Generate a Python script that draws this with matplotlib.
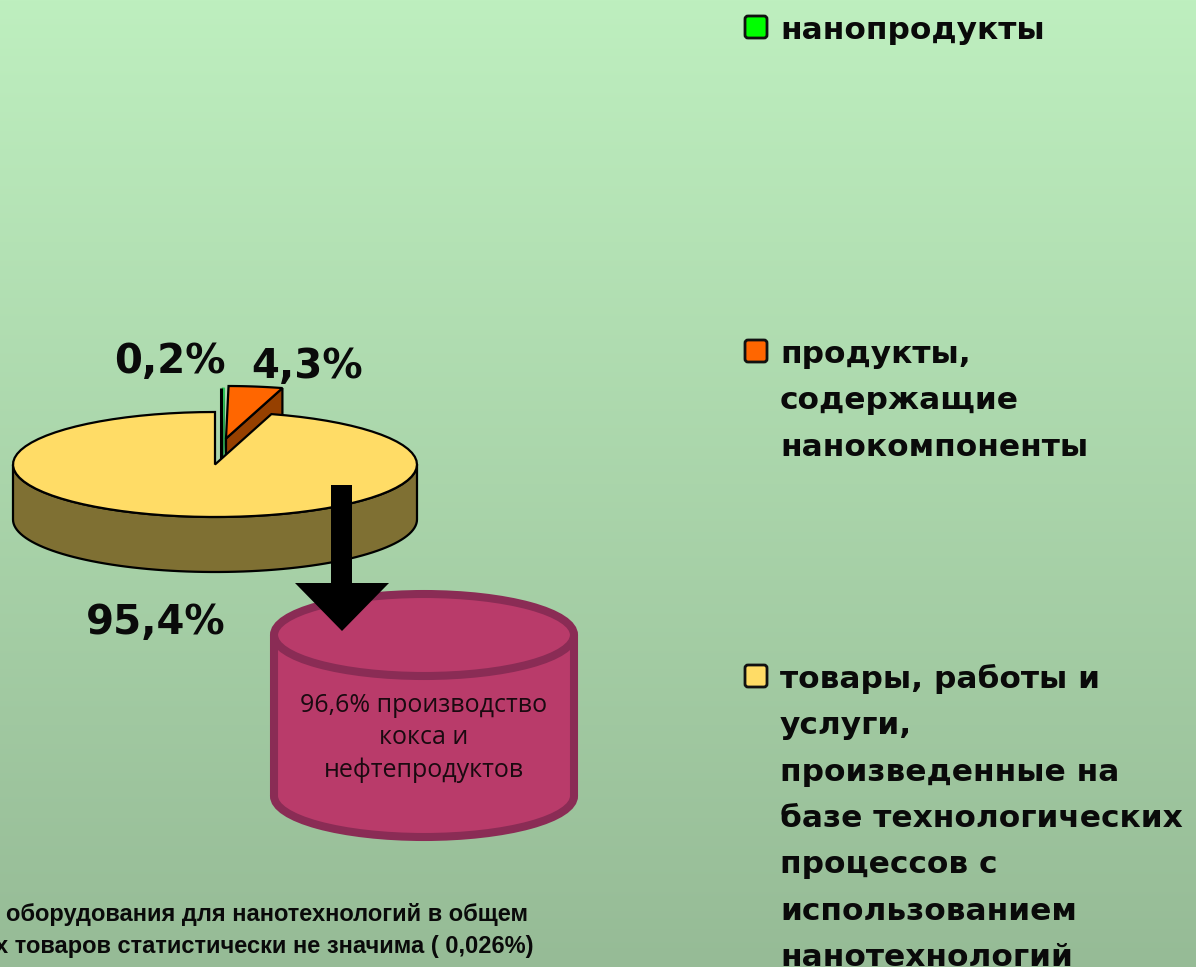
#!/usr/bin/python
# encoding:utf-8
import numpy as np
import matplotlib
matplotlib.use('Agg')
import matplotlib.pyplot as plt
from matplotlib.patches import Ellipse, FancyBboxPatch, Polygon, Rectangle

# доли, %
shares = [0.2, 4.3, 95.4]
share_labels = ['0,2%', '4,3%', '95,4%']
top_colors = ['#2fc858', '#ff6600', '#ffdc66']
side_colors = ['#2a9c4a', '#964000', '#7f7033']
legend_labels = ['нанопродукты',
                 'продукты,\nсодержащие\nнанокомпоненты',
                 'товары, работы и\nуслуги,\nпроизведенные на\nбазе технологических\nпроцессов с\nиспользованием\nнанотехнологий']
legend_colors = ['#00ff00', '#ff6600', '#ffdc66']
cylinder_text = '96,6% производство\nкокса и\nнефтепродуктов'
note_lines = ['оборудования для нанотехнологий в общем',
              'х товаров статистически не значима ( 0,026%)']

W, H = 1196, 967
CX, CY, RX, RY, DEPTH = 215, 464.5, 202, 52.5, 55
# смещение выдвинутых секторов
offsets = [(7, -24), (11, -26), (0, 0)]
LABEL_FONT = ['DejaVu Sans']


def rim(a0, a1, dx=0, dy=0, n=80):
    """точки дуги, угол считается по часовой стрелке от 12 часов"""
    a = np.radians(np.linspace(a0, a1, n))
    return np.column_stack((CX + dx + RX * np.sin(a), CY + dy - RY * np.cos(a)))


def draw_slice(ax, a0, a1, off, top, side):
    dx, dy = off
    # у совсем узкого сектора черный контур съел бы заливку
    narrow = a1 - a0 < 2
    lw = 0.7 if narrow else 1.6
    tip = np.array([[CX + dx, CY + dy]])
    b0, b1 = max(a0, 90), min(a1, 270)
    if b1 > b0:
        # боковая сторона - только то, что видно спереди
        arc = rim(b0, b1, dx, dy)
        wall = np.vstack((arc, arc[::-1] + [0, DEPTH]))
        ax.add_patch(Polygon(wall, fc=side, ec='black', lw=lw))
    else:
        # срез выдвинутого сектора
        end = rim(a1, a1, dx, dy, 1)
        cut = np.vstack((tip, end, end + [0, DEPTH], tip + [0, DEPTH]))
        ax.add_patch(Polygon(cut, fc=side, ec=side if narrow else 'black', lw=lw))
    face = np.vstack((tip, rim(a0, a1, dx, dy)))
    ax.add_patch(Polygon(face, fc=top, ec=top if narrow else 'black', lw=lw))
    if narrow:
        start = rim(a0, a0, dx, dy, 1)
        ax.plot([start[0, 0] - 1.5] * 2, [start[0, 1], CY - 4], color='black', lw=2.2,
                solid_capstyle='butt', zorder=1)


def draw_pie(ax):
    edges = np.cumsum([0] + shares) / sum(shares) * 360
    for i in range(len(shares)):
        draw_slice(ax, edges[i], edges[i + 1], offsets[i], top_colors[i], side_colors[i])


def draw_cylinder(ax):
    xc, top, bottom, rx, ry = 424, 635, 796, 150, 41
    edge, fill = '#8a2c55', '#b93b6a'
    ax.add_patch(Ellipse((xc, bottom), 2 * rx, 2 * ry, fc=fill, ec=edge, lw=5.8))
    ax.add_patch(Rectangle((xc - rx, top), 2 * rx, bottom - top, fc=fill, ec='none'))
    ax.plot([xc - rx, xc - rx], [top, bottom], color=edge, lw=5.8, solid_capstyle='butt')
    ax.plot([xc + rx, xc + rx], [top, bottom], color=edge, lw=5.8, solid_capstyle='butt')
    ax.add_patch(Ellipse((xc, top), 2 * rx, 2 * ry, fc=fill, ec=edge, lw=5.8))
    ax.text(xc, 738, cylinder_text, ha='center', va='center', fontsize=18,
            family='Open Sans', color='#1a0a10', linespacing=1.37)


def draw_arrow(ax):
    pts = [(331, 485), (352, 485), (352, 583), (389, 583), (342, 631), (295, 583), (331, 583)]
    ax.add_patch(Polygon(pts, fc='black', ec='none', zorder=5))


def draw_legend(ax):
    ys = [29, 353, 678]
    for y, label, color in zip(ys, legend_labels, legend_colors):
        ax.add_patch(FancyBboxPatch((747, y - 11), 18, 18, boxstyle='round,pad=2,rounding_size=3',
                                    fc=color, ec='#111111', lw=2))
        for i, line in enumerate(label.split('\n')):
            ax.text(780, y + 10 + i * 46.3, line, ha='left', va='baseline', fontsize=22.5,
                    fontweight='bold', family=LABEL_FONT, color='#0a0a0a')


def main():
    fig = plt.figure(figsize=(W / 100.0, H / 100.0), dpi=100)
    ax = fig.add_axes([0, 0, 1, 1])
    # фон - вертикальный градиент
    c0, c1 = np.array([190, 239, 191]), np.array([150, 187, 150])
    grad = c0 + (c1 - c0) * np.linspace(0, 1, H)[:, None]
    ax.imshow(grad[:, None, :] / 255.0, extent=(0, W, H, 0), aspect='auto', zorder=0)

    draw_pie(ax)
    draw_cylinder(ax)
    draw_arrow(ax)
    draw_legend(ax)

    for pos, label in zip([(170, 362), (307, 367), (156, 623)], share_labels):
        ax.text(pos[0], pos[1], label, ha='center', va='center', fontsize=29,
                fontweight='bold', family=LABEL_FONT, color='#0a0a0a')

    ax.text(6, 914, note_lines[0], ha='left', va='center', fontsize=17,
            fontweight='bold', family='Liberation Sans', color='#0a0a0a')
    ax.text(-5, 947, note_lines[1], ha='left', va='center', fontsize=17,
            fontweight='bold', family='Liberation Sans', color='#0a0a0a')

    ax.set_xlim(0, W)
    ax.set_ylim(H, 0)
    ax.axis('off')
    fig.savefig('out.png', dpi=100)


if __name__ == '__main__':
    main()
